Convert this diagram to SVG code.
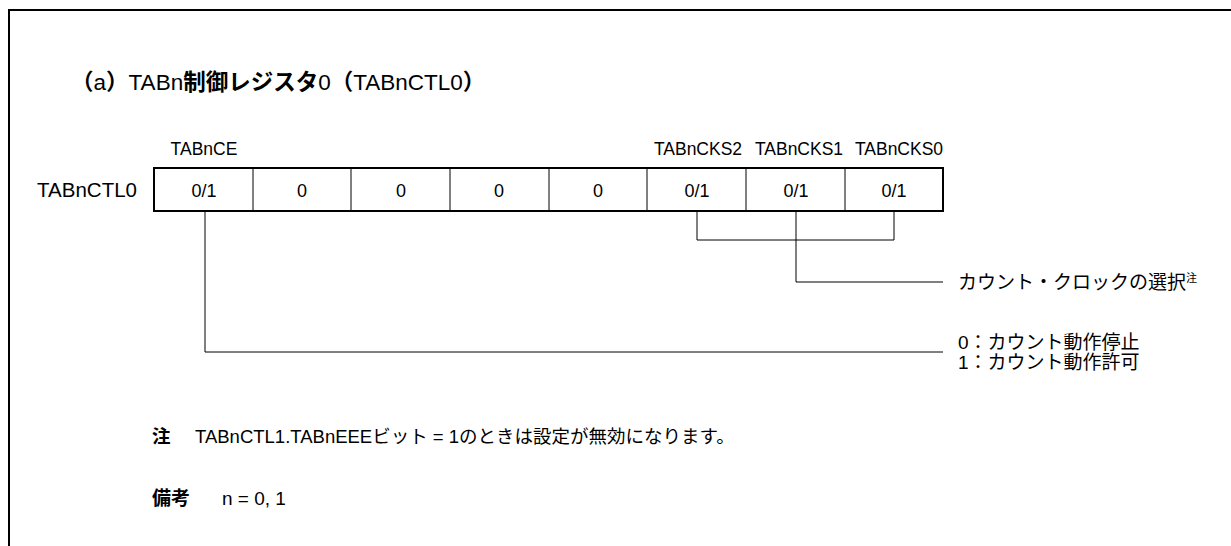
<svg xmlns="http://www.w3.org/2000/svg" width="1231" height="546" viewBox="0 0 1231 546">
<style>
text{font-family:"Liberation Sans","Noto Sans CJK JP",sans-serif;fill:#000}
.lbl{font-size:17.5px;text-anchor:middle}
.cell{font-size:18px;text-anchor:middle}
.b{font-weight:bold}
.t{font-size:19px}
.ln{stroke:#000;stroke-width:1;fill:none}
</style>
<rect width="1231" height="546" fill="#fff"/>
<path d="M9,546 V10 H1231" fill="none" stroke="#000" stroke-width="2"/>
<text x="71" y="90" font-size="22.5"><tspan class="b">（</tspan>a<tspan class="b">）</tspan>TABn<tspan class="b">制御レジスタ</tspan>0<tspan class="b">（</tspan>TABnCTL0<tspan class="b">）</tspan></text>
<g id="labels">
<text class="lbl" x="204" y="155">TABnCE</text>
<text class="lbl" x="698" y="155">TABnCKS2</text>
<text class="lbl" x="799" y="155">TABnCKS1</text>
<text class="lbl" x="899" y="155">TABnCKS0</text>
<text x="137" y="197" font-size="20.5" style="text-anchor:end">TABnCTL0</text>
</g>
<g id="register">
<rect x="154" y="168" width="789" height="43" fill="none" stroke="#000" stroke-width="2"/>
<path class="ln" d="M253,168V211M351,168V211M450,168V211M549,168V211M647,168V211M746,168V211M845,168V211"/>
<text class="cell" x="204" y="197">0/1</text>
<text class="cell" x="302" y="197">0</text>
<text class="cell" x="401" y="197">0</text>
<text class="cell" x="499" y="197">0</text>
<text class="cell" x="598" y="197">0</text>
<text class="cell" x="697" y="197">0/1</text>
<text class="cell" x="796" y="197">0/1</text>
<text class="cell" x="894" y="197">0/1</text>
</g>
<g id="connectors">
<path class="ln" d="M697,211V240H894V211M796,211V282H943"/>
<path class="ln" d="M205,211V352H943"/>
</g>
<g id="desc">
<text class="t" x="958" y="289">カウント・クロックの選択<tspan font-size="11" dy="-7">注</tspan></text>
<text class="t" x="958" y="349">0：カウント動作停止</text>
<text class="t" x="958" y="369">1：カウント動作許可</text>
</g>
<g id="notes">
<text x="152" y="443" font-size="18.5"><tspan class="b">注</tspan><tspan x="195">TABnCTL1.TABnEEEビット = 1のときは設定が無効になります。</tspan></text>
<text class="t" x="152" y="505"><tspan class="b">備考</tspan><tspan x="222">n = 0, 1</tspan></text>
</g>
</svg>
